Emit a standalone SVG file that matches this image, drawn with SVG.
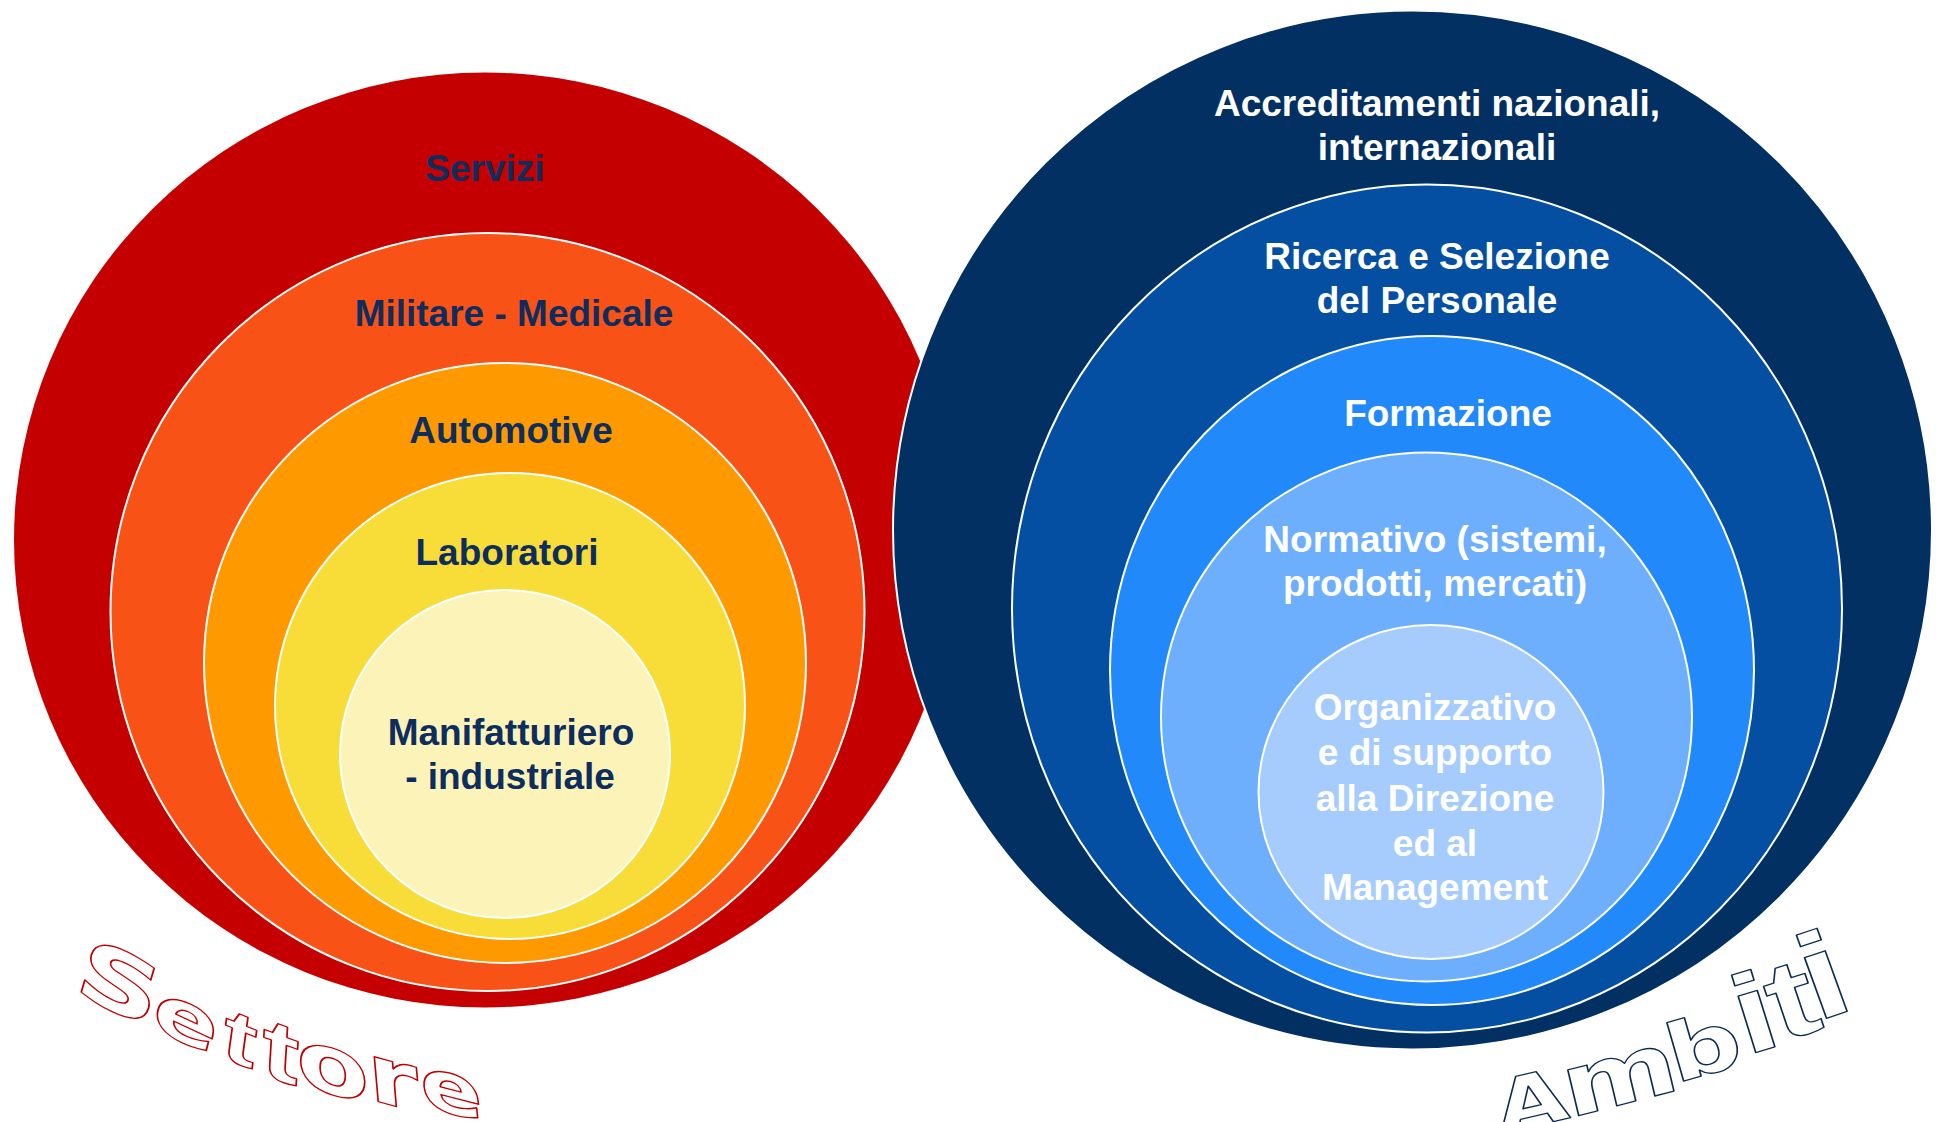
<svg xmlns="http://www.w3.org/2000/svg" width="1936" height="1122" viewBox="0 0 1936 1122">
  <style>
    .ring { stroke: #ffffff; stroke-width: 2; }
    .lbl { font-family: "Liberation Sans", Arial, sans-serif; font-weight: bold; font-size: 37px; text-anchor: middle; }
    .dark { fill: #0D2D5E; }
    .light { fill: #ffffff; }
    .word { font-family: "DejaVu Sans", "Liberation Sans", sans-serif; font-weight: bold; fill: #ffffff; stroke-width: 1.3; stroke-linejoin: round; }
    .ls { font-family: "Liberation Sans", Arial, sans-serif; }
    .settore { stroke: #C00000; }
    .ambiti { stroke: #0B2B52; }
  </style>
  <rect x="0" y="0" width="1936" height="1122" fill="#ffffff"/>

  <g id="settore-circles">
    <g id="servizi">
      <ellipse cx="485" cy="540" rx="471" ry="467.5" fill="#C40000"/>
      <text class="lbl dark" x="485" y="181">Servizi</text>
    </g>
    <g id="militare-medicale">
      <ellipse class="ring" cx="487.5" cy="612" rx="377" ry="379" fill="#F95217"/>
      <text class="lbl dark" x="514" y="326">Militare - Medicale</text>
    </g>
    <g id="automotive">
      <ellipse class="ring" cx="505" cy="663" rx="301" ry="300" fill="#FE9A00"/>
      <text class="lbl dark" x="511" y="443">Automotive</text>
    </g>
    <g id="laboratori">
      <ellipse class="ring" cx="510" cy="706" rx="235" ry="233" fill="#F8DC37"/>
      <text class="lbl dark" x="507" y="565">Laboratori</text>
    </g>
    <g id="manifatturiero">
      <ellipse class="ring" cx="505" cy="754" rx="165" ry="164" fill="#FCF3B9"/>
      <text class="lbl dark" x="511" y="745">Manifatturiero</text>
      <text class="lbl dark" x="510" y="789">- industriale</text>
    </g>
  </g>

  <g id="ambiti-circles">
    <g id="accreditamenti">
      <ellipse class="ring" cx="1412.5" cy="530" rx="519.5" ry="519.5" fill="#023062"/>
      <text class="lbl light" x="1437" y="116">Accreditamenti nazionali,</text>
      <text class="lbl light" x="1437" y="160">internazionali</text>
    </g>
    <g id="ricerca-selezione">
      <ellipse class="ring" cx="1427" cy="608.5" rx="415" ry="424" fill="#044FA2"/>
      <text class="lbl light" x="1437" y="269">Ricerca e Selezione</text>
      <text class="lbl light" x="1437" y="313">del Personale</text>
    </g>
    <g id="formazione">
      <ellipse class="ring" cx="1432" cy="670.5" rx="322" ry="334.5" fill="#2189F9"/>
      <text class="lbl light" x="1448" y="426">Formazione</text>
    </g>
    <g id="normativo">
      <ellipse class="ring" cx="1426.5" cy="717" rx="265.5" ry="264.5" fill="#6DAFFC"/>
      <text class="lbl light" x="1435" y="552">Normativo (sistemi,</text>
      <text class="lbl light" x="1435" y="596">prodotti, mercati)</text>
    </g>
    <g id="organizzativo">
      <ellipse class="ring" cx="1431" cy="792" rx="172.5" ry="167" fill="#A6CCFD"/>
      <text class="lbl light" x="1435" y="720">Organizzativo</text>
      <text class="lbl light" x="1435" y="765">e di supporto</text>
      <text class="lbl light" x="1435" y="811">alla Direzione</text>
      <text class="lbl light" x="1435" y="856">ed al</text>
      <text class="lbl light" x="1435" y="900">Management</text>
    </g>
  </g>

  <g id="connectors"/>

  <g id="settore-label">
    <text class="word settore" transform="skewY(18) scale(1.3,1)"><tspan x="55.1" y="967.7" rotate="11.6" font-size="87">S</tspan><tspan x="114.9" y="978" rotate="10.3" font-size="73">e</tspan><tspan class="ls" x="169.2" y="985.1" rotate="5.8" font-size="77">t</tspan><tspan class="ls" x="200.2" y="988.9" rotate="2.6" font-size="86">t</tspan><tspan x="228.2" y="986.6" rotate="-1.3" font-size="82">o</tspan><tspan x="284.2" y="979.2" rotate="-3.9" font-size="80">r</tspan><tspan x="325" y="968.8" rotate="-5.2" font-size="71">e</tspan></text>
  </g>

  <g id="ambiti-label">
    <text class="word ambiti" transform="rotate(-16) scale(1.3,1)"><tspan x="869.1" y="1503.4" rotate="4" font-size="72">A</tspan><tspan x="923.7" y="1507.4" rotate="2" font-size="86">m</tspan><tspan x="1008.9" y="1503.3" rotate="0" font-size="80">b</tspan><tspan class="ls" x="1067.2" y="1495.9" rotate="-1" font-size="112">i</tspan><tspan class="ls" x="1095.7" y="1492.5" rotate="-2" font-size="110">t</tspan><tspan class="ls" x="1126.1" y="1482.8" rotate="-3" font-size="122">i</tspan></text>
  </g>
</svg>
